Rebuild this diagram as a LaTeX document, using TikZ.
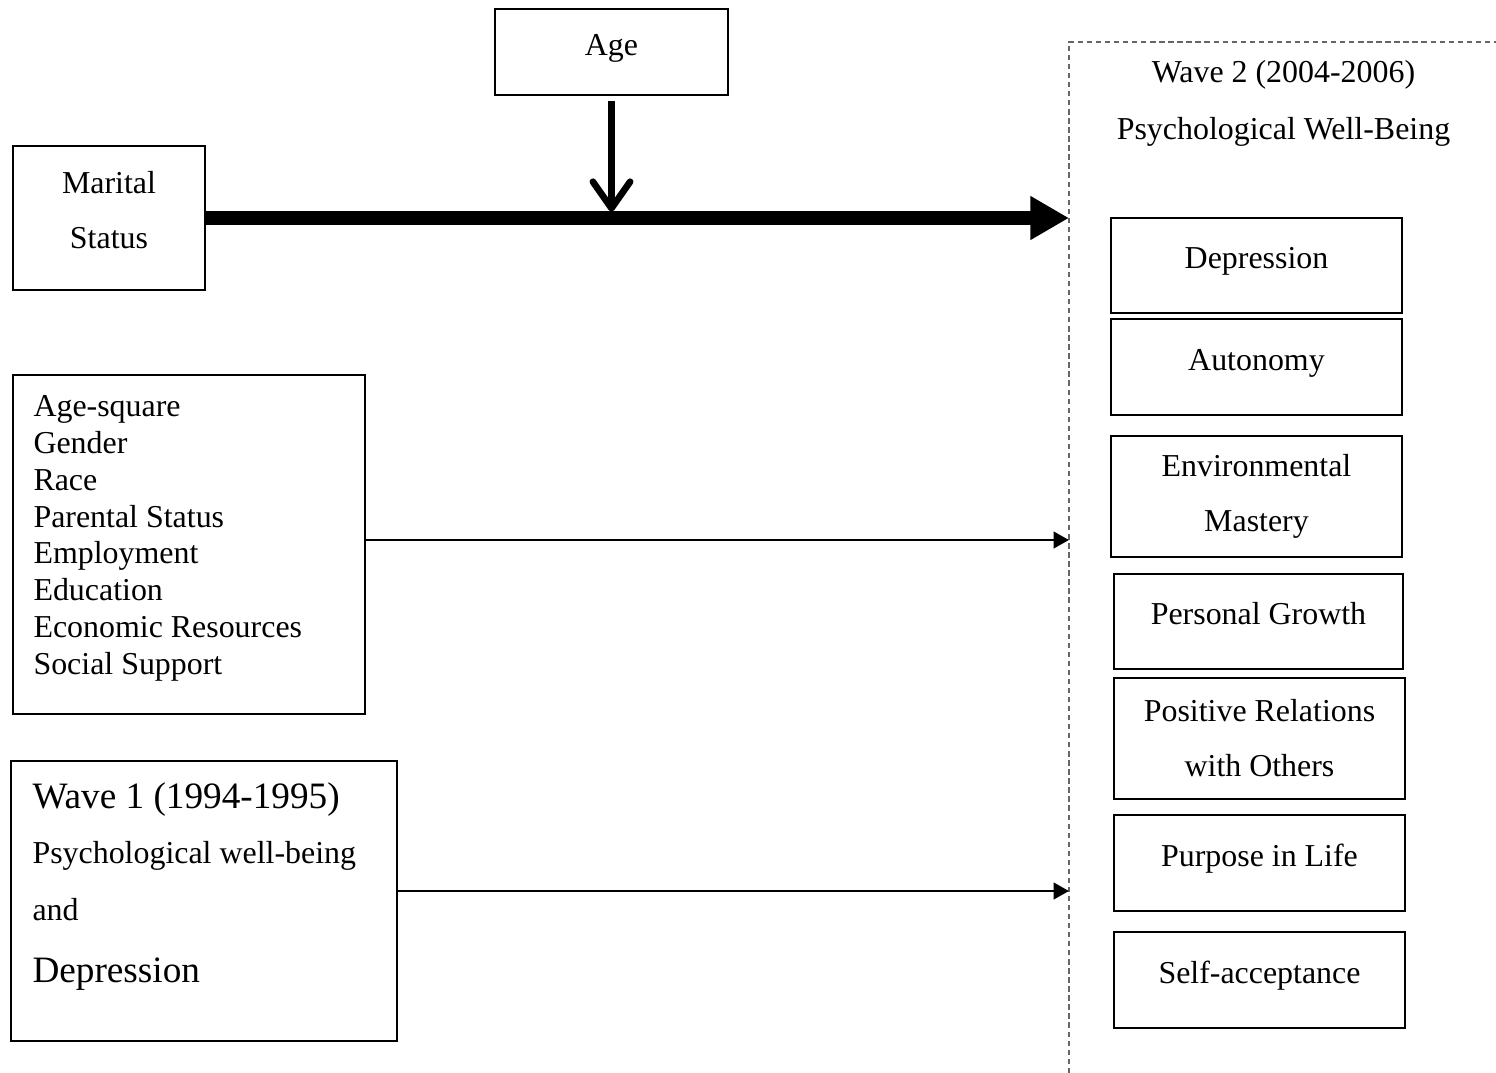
\documentclass[tikz,border=0pt]{standalone}
\usepackage{fontspec}
\setmainfont{Liberation Serif}
\usetikzlibrary{arrows.meta}

\begin{document}
\begin{tikzpicture}[x=0.376pt,y=-0.376pt,
	box/.style={draw,line width=0.75pt,inner sep=0pt,font=\fontsize{12pt}{14pt}\selectfont},
	onebox/.style={box,minimum width=109.4pt,minimum height=36pt,text height=8.2pt,text depth=5.9pt},
	twobox/.style={box,minimum width=109.4pt,minimum height=45.5pt,align=center,font=\fontsize{12pt}{20.7pt}\selectfont},
	listtext/.style={inner sep=0pt,align=left,font=\fontsize{12pt}{13.85pt}\selectfont},
	fatarrow/.style={line width=4.9pt,-{Triangle[length=14.5pt,width=15.5pt]}},
	linkarrow/.style={line width=1.1pt,-{Triangle[length=5.8pt,width=6.2pt]}},
	modarrow/.style={line width=2.5pt,-{Straight Barb[length=10pt,width=14pt,round]}},
	framedash/.style={draw=black!60,line width=0.75pt,dash pattern=on 2pt off 1.4pt}]
	\useasboundingbox (0,0) rectangle (1496,1073);

	\node[onebox,minimum width=87.6pt,minimum height=32.3pt] (age) at (611.5,52) {Age};
	\node[twobox,minimum width=72.2pt,minimum height=54.1pt,text depth=6.3pt] (marital) at (109,218) {Marital\\Status};

	\node[box,minimum width=132.4pt,minimum height=127.5pt] (covars) at (189,544.5) {};
	\node[listtext,anchor=north west] (covlist) at (33,395)
	{
		Age-square\\
		Gender\\
		Race\\
		Parental Status\\
		Employment\\
		Education\\
		Economic Resources\\
		Social Support
	};

	\node[box,minimum width=145.1pt,minimum height=105.3pt] (waveone) at (204,901) {};
	\node[listtext,font=\fontsize{12pt}{14pt}\selectfont,anchor=north west] (waveonelist) at (32,782.5)
	{
		{\fontsize{14pt}{14pt}\selectfont Wave 1 (1994-1995)}\\[6.7pt]
		Psychological well-being\\[7.4pt]
		and\\[9.3pt]
		{\fontsize{14pt}{14pt}\selectfont Depression}
	};

	\draw[framedash] (1069,1073) -- (1069,42) -- (1496,42);
	\coordinate (mainend) at (1069,218);
	\coordinate (covend) at (1069,540);
	\coordinate (waveend) at (1069,891);

	\node[inner sep=0pt,align=center,font=\fontsize{12pt}{21.4pt}\selectfont] (wavetwo) at (1283.5,103.5) {Wave 2 (2004-2006)\\Psychological Well-Being};

	\node[onebox,minimum height=35.7pt] (depr) at (1256.5,265.5) {Depression};
	\node[onebox] (auton) at (1256.5,367) {Autonomy};
	\node[twobox] (envmast) at (1256.5,496.5) {Environmental\\Mastery};
	\node[onebox,minimum width=108.7pt,minimum height=35.7pt] (pgrowth) at (1258.5,621.5) {Personal Growth};
	\node[twobox] (posrel) at (1259.5,738.5) {Positive Relations\\with Others};
	\node[onebox] (purpose) at (1259.5,863) {Purpose in Life};
	\node[onebox] (selfacc) at (1259.5,980) {Self-acceptance};

	\draw[fatarrow] (marital.east) -- (mainend);
	\draw[modarrow] ([yshift=-1.9pt]age.south) -- ([yshift=2.4pt]age.south |- mainend);
	\draw[linkarrow] (covars.east |- covend) -- (covend);
	\draw[linkarrow] (waveone.east |- waveend) -- (waveend);
\end{tikzpicture}
\end{document}
